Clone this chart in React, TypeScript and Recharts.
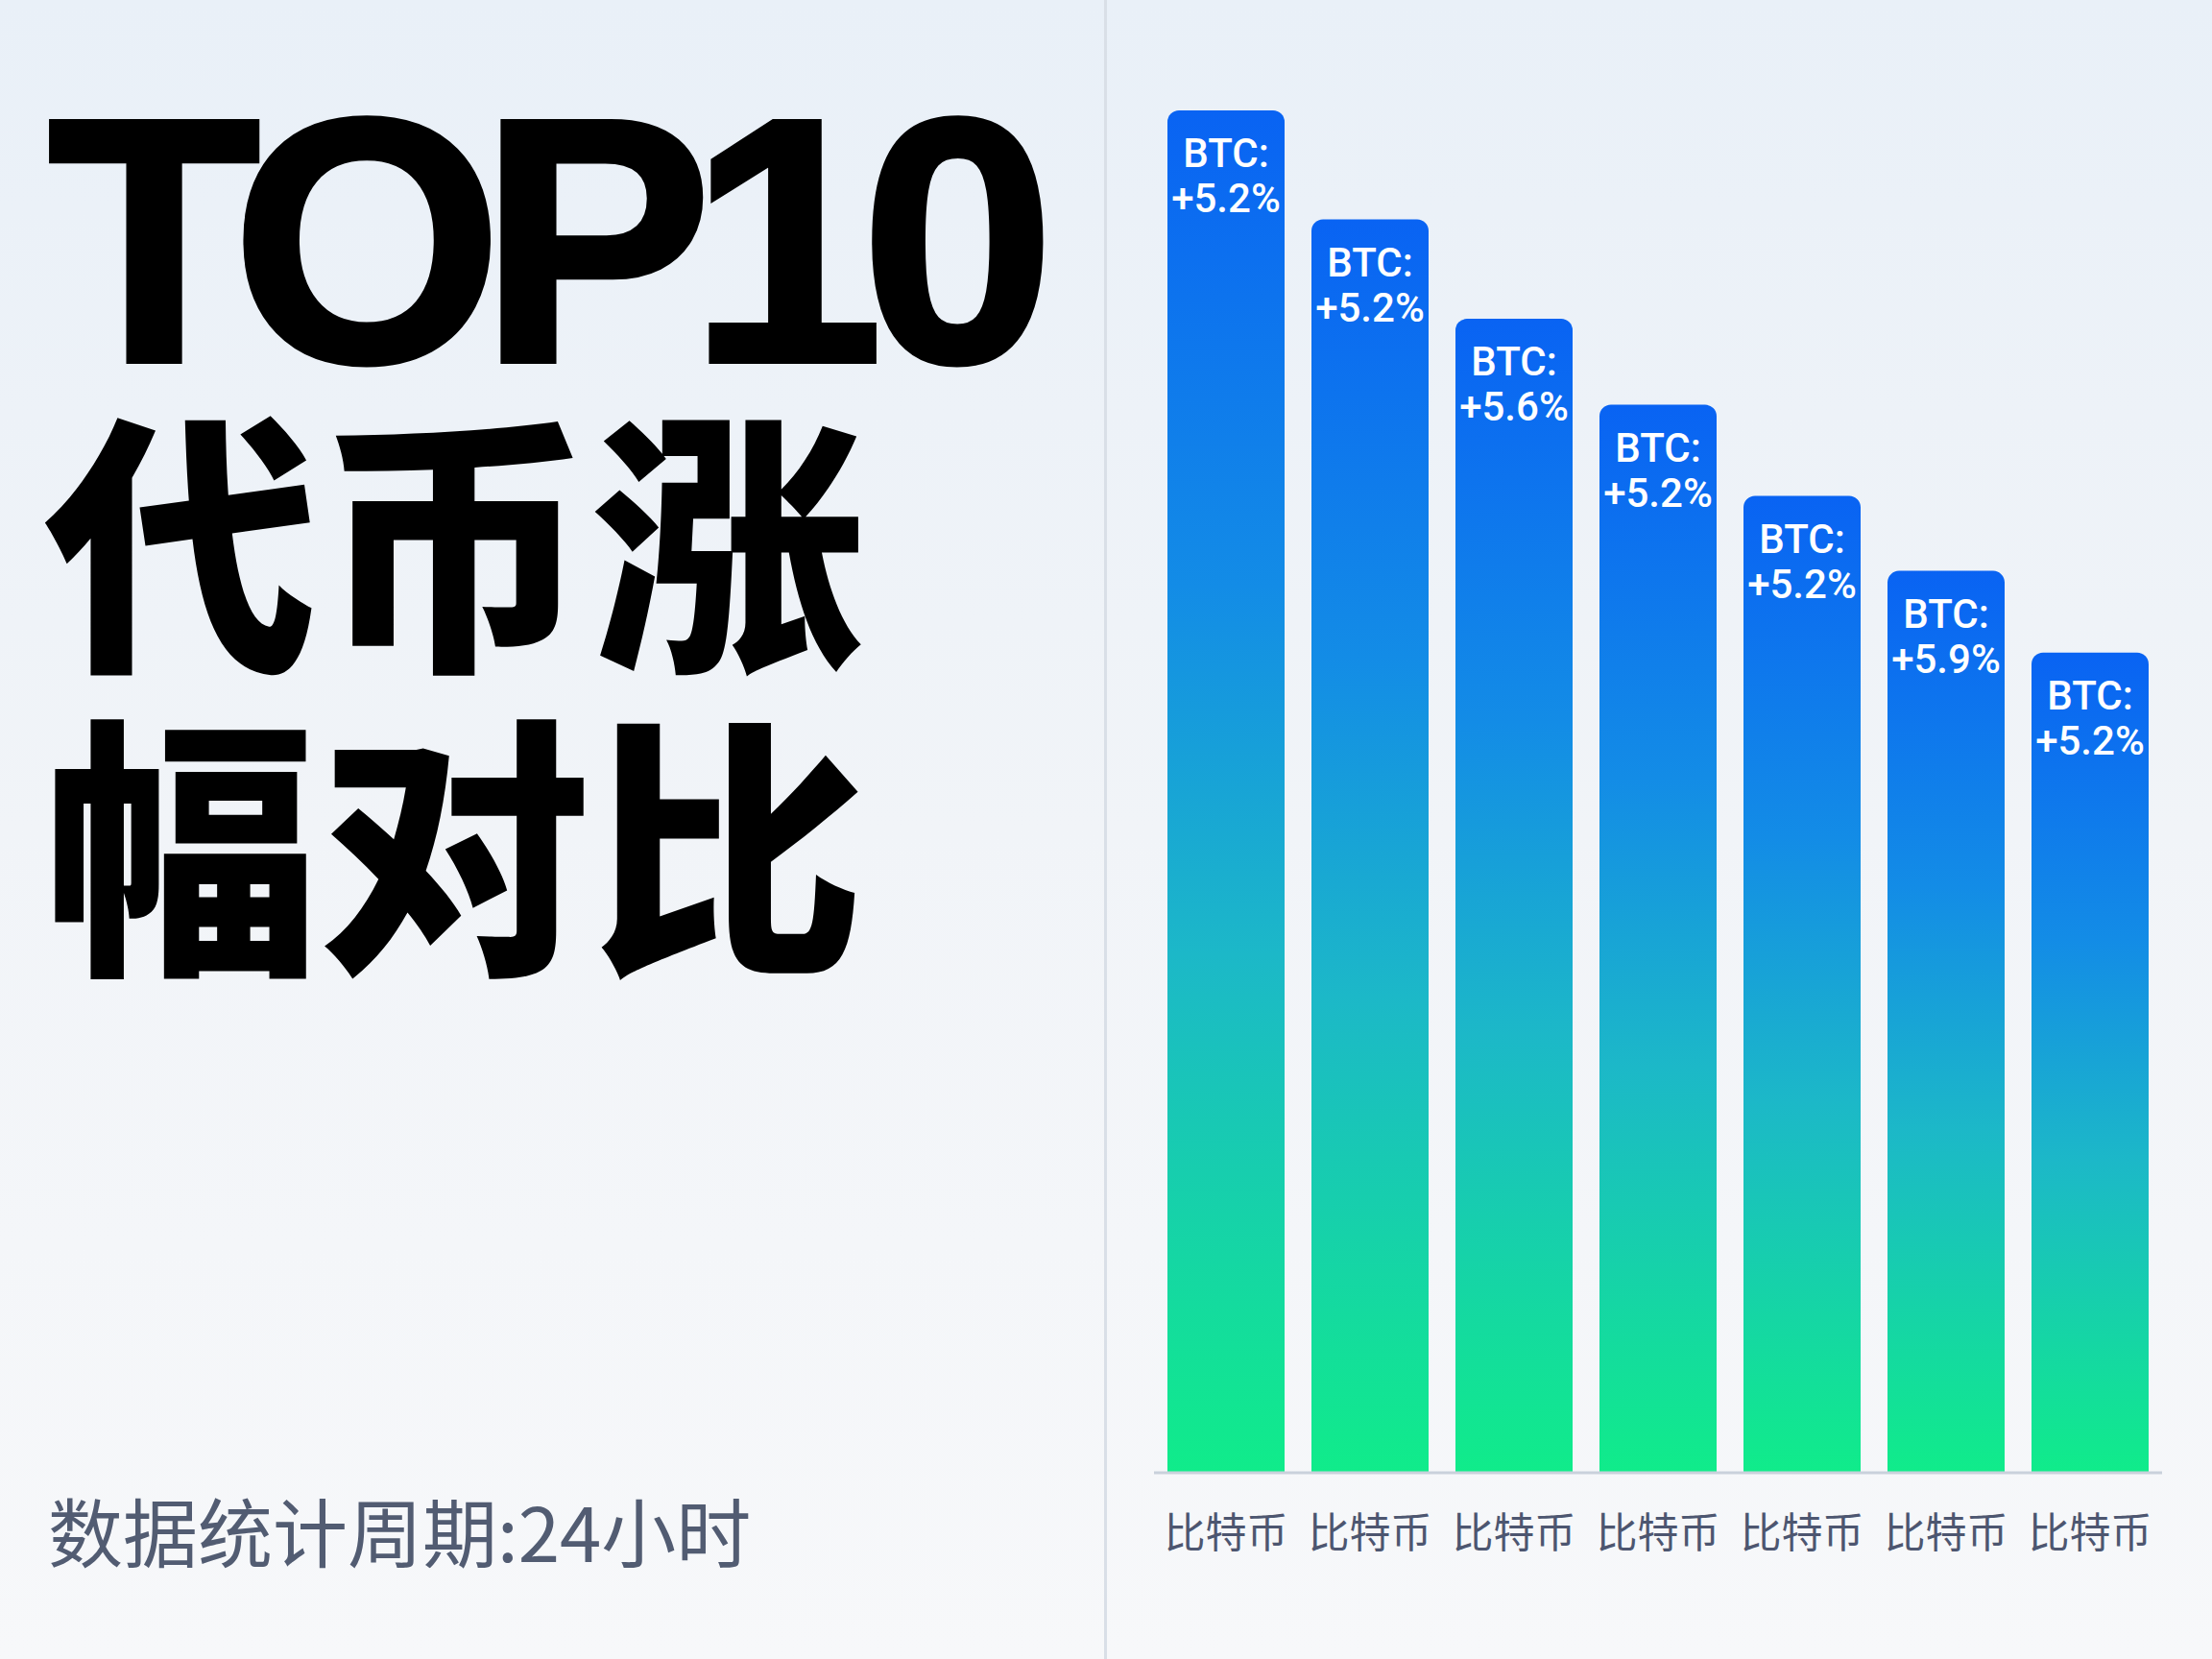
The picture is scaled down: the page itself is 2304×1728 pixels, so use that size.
import React from "react";
import { BarChart, Bar, XAxis, YAxis, LabelList } from "recharts";

// chart values
const coinNames = ["比特币", "比特币", "比特币", "比特币", "比特币", "比特币", "比特币"];
const symbols = ["BTC", "BTC", "BTC", "BTC", "BTC", "BTC", "BTC"];
const barValues = [100, 92, 84.7, 78.4, 71.7, 66.2, 60.2];
const changeLabels = ["+5.2%", "+5.2%", "+5.6%", "+5.2%", "+5.2%", "+5.9%", "+5.2%"];

const data = coinNames.map((name, i) => ({
  name,
  value: barValues[i],
  label: `${symbols[i]}:|${changeLabels[i]}`,
}));

const CJK = '"Noto Sans CJK SC", "Noto Sans", sans-serif';

const CoinTick = (props: any) => {
  const { x, y, payload } = props;
  return (
    <text
      x={x}
      y={y + 70}
      textAnchor="middle"
      fill="#4d5670"
      fontSize={43}
      fontFamily={CJK}
    >
      {payload.value}
    </text>
  );
};

const BarLabel = (props: any) => {
  const { x, y, width, value } = props;
  const [top, bottom] = String(value).split("|");
  const cx = Number(x) + Number(width) / 2;
  return (
    <text
      x={cx}
      y={Number(y) + 59}
      textAnchor="middle"
      fill="#ffffff"
      fontSize={42}
      fontWeight={500}
      fontFamily="Roboto, 'Liberation Sans', sans-serif"
    >
      <tspan x={cx}>{top}</tspan>
      <tspan x={cx} dy={47}>
        {bottom}
      </tspan>
    </text>
  );
};

export default function App() {
  return (
    <div
      style={{
        position: "absolute",
        left: 0,
        top: 0,
        width: 2304,
        height: 1728,
        overflow: "hidden",
        background: "linear-gradient(180deg, #e9f0f8 0%, #f1f4f8 50%, #f7f8fa 100%)",
      }}
    >
      {/* left panel text */}
      <svg
        width={1150}
        height={1728}
        style={{ position: "absolute", left: 0, top: 0 }}
      >
        <text
          x={50}
          y={376}
          fontSize={362}
          fontWeight={900}
          letterSpacing={-23}
          fontFamily="'Liberation Sans', Arial, sans-serif"
          fill="#000"
          stroke="#000"
          strokeWidth={6}
        >
          TOP10
        </text>
        <text x={46} y={677} fontSize={285} fontWeight={900} fontFamily={CJK} fill="#000">
          代币涨
        </text>
        <text x={46} y={993} fontSize={285} fontWeight={900} fontFamily={CJK} fill="#000">
          幅对比
        </text>
        <text x={50} y={1627} fontSize={78} fontFamily={CJK} fill="#525c72">
          数据统计周期:24小时
        </text>
      </svg>

      {/* divider */}
      <div
        style={{
          position: "absolute",
          left: 1150,
          top: 0,
          width: 3,
          height: 1728,
          background: "#d9dfe7",
        }}
      />

      <div style={{ position: "absolute", left: 1150, top: 0 }}>
        <BarChart
          width={1154}
          height={1728}
          data={data}
          margin={{ top: 115, right: 52, bottom: 94, left: 52 }}
        >
          <defs>
            <linearGradient id="barFill" x1="0" y1="0" x2="0" y2="1">
              <stop offset="0%" stopColor="#0963f3" />
              <stop offset="35%" stopColor="#138ce6" />
              <stop offset="62%" stopColor="#1cb8c8" />
              <stop offset="100%" stopColor="#10ec8a" />
            </linearGradient>
          </defs>
          <XAxis
            dataKey="name"
            height={100}
            tickLine={false}
            axisLine={{ stroke: "#c9d1db", strokeWidth: 3 }}
            tick={<CoinTick />}
            interval={0}
          />
          <YAxis hide domain={[0, 100]} />
          <Bar
            dataKey="value"
            fill="url(#barFill)"
            barSize={122}
            radius={[12, 12, 0, 0]}
            isAnimationActive={false}
          >
            <LabelList dataKey="label" content={<BarLabel />} />
          </Bar>
        </BarChart>
      </div>
    </div>
  );
}
